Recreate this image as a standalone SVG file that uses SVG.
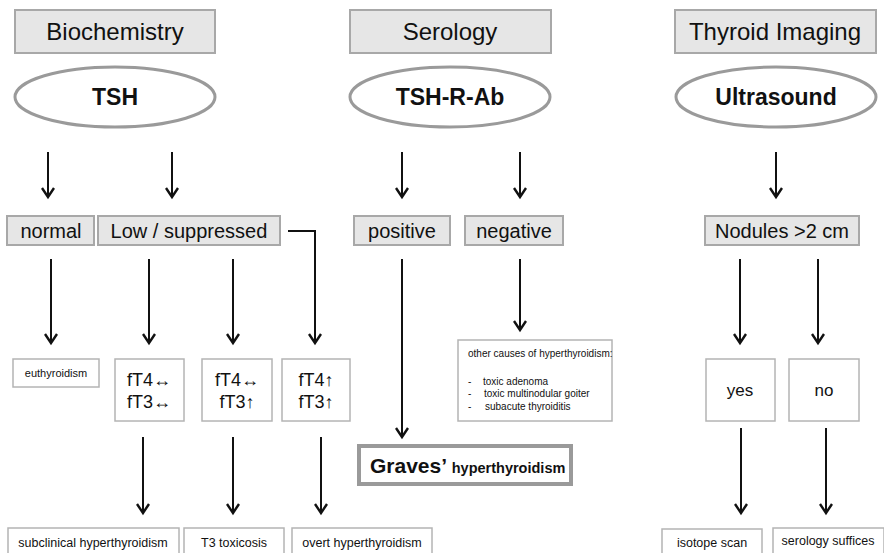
<svg xmlns="http://www.w3.org/2000/svg" width="884" height="553" viewBox="0 0 884 553">
<defs>
<style>
text{font-family:"Liberation Sans",Arial,sans-serif;fill:#111;}
.hdr{fill:#e6e6e6;stroke:#a8a8a8;stroke-width:2;}
.hdrt{font-size:24px;text-anchor:middle;}
.ell{fill:#fff;stroke:#9a9a9a;stroke-width:3;}
.ellt{font-size:23px;font-weight:bold;text-anchor:middle;}
.sub{fill:#e6e6e6;stroke:#a8a8a8;stroke-width:2;}
.subt{font-size:20px;text-anchor:middle;}
.box{fill:#fff;stroke:#b4b4b4;stroke-width:1.5;}
.mid{font-size:18px;text-anchor:middle;}
.sm{font-size:11px;text-anchor:middle;}
.bt{font-size:12.5px;text-anchor:middle;}
.oc{font-size:10px;}
.con{stroke:#111;stroke-width:2;fill:none;}
</style>
<marker id="ah" markerUnits="userSpaceOnUse" orient="auto" refX="0" refY="0" markerWidth="20" markerHeight="20" overflow="visible">
<path d="M-9,-6 L0,0 L-9,6" fill="none" stroke="#111" stroke-width="2.4"/>
</marker>
</defs>
<rect width="884" height="553" fill="#fff"/>

<g id="biochemistry"><rect class="hdr" x="15" y="10" width="200" height="43"/><text class="hdrt" x="115" y="40">Biochemistry</text></g>
<g id="serology"><rect class="hdr" x="350" y="10" width="201" height="43"/><text class="hdrt" x="450" y="40">Serology</text></g>
<g id="imaging"><rect class="hdr" x="675" y="10" width="201" height="43"/><text class="hdrt" x="775" y="40">Thyroid Imaging</text></g>

<g id="tsh"><ellipse class="ell" cx="115" cy="97" rx="100" ry="30"/><text class="ellt" x="115" y="105">TSH</text></g>
<g id="tshrab"><ellipse class="ell" cx="450" cy="97" rx="100" ry="30"/><text class="ellt" x="450" y="105">TSH-R-Ab</text></g>
<g id="ultrasound"><ellipse class="ell" cx="776" cy="97" rx="100" ry="30"/><text class="ellt" x="776" y="105">Ultrasound</text></g>

<g id="normal"><rect class="sub" x="7" y="216" width="87" height="29"/><text class="subt" x="51" y="238">normal</text></g>
<g id="low"><rect class="sub" x="98" y="216" width="182" height="29"/><text class="subt" x="189" y="238">Low / suppressed</text></g>
<g id="positive"><rect class="sub" x="354" y="216" width="96" height="29"/><text class="subt" x="402" y="238">positive</text></g>
<g id="negative"><rect class="sub" x="465" y="216" width="98" height="29"/><text class="subt" x="514" y="238">negative</text></g>
<g id="nodules"><rect class="sub" x="705" y="216" width="154" height="29"/><text class="subt" x="782" y="238">Nodules &gt;2 cm</text></g>

<g id="euthyroidism"><rect class="box" x="13" y="359" width="86" height="28"/><text class="sm" x="56" y="377">euthyroidism</text></g>
<g id="sub_labs"><rect class="box" x="115" y="359" width="69" height="62"/><text class="mid" x="149" y="386">fT4↔</text><text class="mid" x="149" y="408">fT3↔</text></g>
<g id="t3_labs"><rect class="box" x="202" y="359" width="70" height="62"/><text class="mid" x="237" y="386">fT4↔</text><text class="mid" x="237" y="408">fT3↑</text></g>
<g id="overt_labs"><rect class="box" x="282" y="359" width="68" height="62"/><text class="mid" x="316" y="386">fT4↑</text><text class="mid" x="316" y="408">fT3↑</text></g>
<g id="other_causes"><rect class="box" x="458" y="340" width="154" height="81"/>
<text class="oc" x="468" y="357">other causes of hyperthyroidism:</text>
<text class="oc" x="468" y="385">-</text><text class="oc" x="483" y="385">toxic adenoma</text>
<text class="oc" x="468" y="397">-</text><text class="oc" x="484" y="397">toxic multinodular goiter</text>
<text class="oc" x="468" y="410">-</text><text class="oc" x="485" y="410">subacute thyroiditis</text></g>
<g id="yes"><rect class="box" x="706" y="359" width="69" height="62"/><text class="mid" x="740" y="396" style="font-size:17px">yes</text></g>
<g id="no"><rect class="box" x="789" y="359" width="70" height="62"/><text class="mid" x="824" y="396" style="font-size:17px">no</text></g>

<g id="graves"><rect x="359" y="446" width="212" height="38" fill="#fff" stroke="#9a9a9a" stroke-width="4"/><text x="370" y="473" style="font-weight:bold;font-size:21px">Graves’ <tspan style="font-size:14.5px">hyperthyroidism</tspan></text></g>

<g id="subclinical"><rect class="box" x="8" y="528" width="171" height="30"/><text class="bt" x="93" y="547">subclinical hyperthyroidism</text></g>
<g id="t3tox"><rect class="box" x="184" y="528" width="100" height="30"/><text class="bt" x="234" y="547">T3 toxicosis</text></g>
<g id="overt"><rect class="box" x="292" y="528" width="140" height="30"/><text class="bt" x="362" y="547">overt hyperthyroidism</text></g>
<g id="isotope"><rect class="box" x="662" y="529" width="100" height="30"/><text class="bt" x="712" y="547">isotope scan</text></g>
<g id="serology_suffices"><rect class="box" x="773" y="528" width="111" height="30"/><text class="bt" x="828" y="545">serology suffices</text></g>

<g id="connectors">
<line class="con" x1="48" y1="152" x2="48" y2="197" marker-end="url(#ah)"/>
<line class="con" x1="172" y1="152" x2="172" y2="197" marker-end="url(#ah)"/>
<line class="con" x1="402" y1="152" x2="402" y2="197" marker-end="url(#ah)"/>
<line class="con" x1="520" y1="152" x2="520" y2="197" marker-end="url(#ah)"/>
<line class="con" x1="776" y1="152" x2="776" y2="197" marker-end="url(#ah)"/>

<line class="con" x1="51" y1="259" x2="51" y2="343" marker-end="url(#ah)"/>
<line class="con" x1="149" y1="259" x2="149" y2="343" marker-end="url(#ah)"/>
<line class="con" x1="233" y1="259" x2="233" y2="343" marker-end="url(#ah)"/>
<polyline class="con" points="288,231 315,231 315,343" marker-end="url(#ah)"/>
<line class="con" x1="402" y1="259" x2="402" y2="437" marker-end="url(#ah)"/>
<line class="con" x1="520" y1="259" x2="520" y2="330" marker-end="url(#ah)"/>
<line class="con" x1="740" y1="259" x2="740" y2="343" marker-end="url(#ah)"/>
<line class="con" x1="818" y1="259" x2="818" y2="343" marker-end="url(#ah)"/>

<line class="con" x1="143" y1="437" x2="143" y2="513" marker-end="url(#ah)"/>
<line class="con" x1="233" y1="437" x2="233" y2="513" marker-end="url(#ah)"/>
<line class="con" x1="321" y1="437" x2="321" y2="513" marker-end="url(#ah)"/>
<line class="con" x1="741" y1="428" x2="741" y2="513" marker-end="url(#ah)"/>
<line class="con" x1="826" y1="428" x2="826" y2="513" marker-end="url(#ah)"/>
</g>
</svg>
